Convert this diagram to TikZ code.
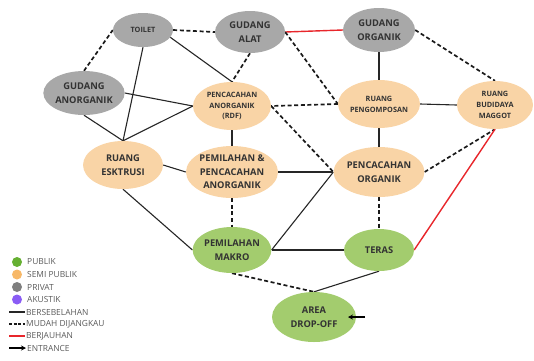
\documentclass[tikz,border=0pt]{standalone}
\usepackage{fontspec}
\setmainfont{Open Sans}
\usetikzlibrary{shapes.geometric,arrows.meta}
\pgfdeclarelayer{background}
\pgfsetlayers{background,main}
\definecolor{nodegray}{HTML}{A8A8A8}
\definecolor{nodeorange}{HTML}{F9D4A6}
\definecolor{nodegreen}{HTML}{A3CC6E}
\definecolor{legpub}{HTML}{66B032}
\definecolor{legsemi}{HTML}{F7B868}
\definecolor{legpriv}{HTML}{7F7F7F}
\definecolor{legaku}{HTML}{8A5CF5}
\definecolor{txtdark}{HTML}{333333}
\definecolor{legtxt}{HTML}{5A5A5A}
\definecolor{farred}{HTML}{E8262B}
\tikzset{
  room/.style={ellipse, inner sep=0pt, align=center, text=txtdark,
    font=\fontsize{9.3}{13.5}\selectfont\bfseries},
  smallroom/.style={room, font=\fontsize{7.3}{10.8}\selectfont\bfseries},
  priv/.style={fill=nodegray},
  semi/.style={fill=nodeorange},
  pub/.style={fill=nodegreen},
  near/.style={draw=black!85, line width=1.1pt},
  reach/.style={draw=black!90, line width=1.7pt, dash pattern=on 4pt off 2.6pt},
  far/.style={draw=farred, line width=1.4pt},
  legdot/.style={circle, inner sep=0pt, minimum size=10pt},
  legtext/.style={anchor=west, inner sep=0pt, text=legtxt, font=\fontsize{8.4}{10}\selectfont}
}
\begin{document}
\begin{tikzpicture}[x=1pt,y=-1pt]
\useasboundingbox (0,0) rectangle (534,360);
% nodes
\node[room,smallroom,priv,minimum width=60pt,minimum height=34pt] (toilet) at (143,30) {TOILET};
\node[room,priv,minimum width=70pt,minimum height=42pt] (alat) at (250,32) {GUDANG\\ALAT};
\node[room,priv,minimum width=72pt,minimum height=44pt] (organik) at (379,30) {GUDANG\\ORGANIK};
\node[room,priv,minimum width=74pt,minimum height=44pt] (anorg) at (84,93) {GUDANG\\ANORGANIK};
\node[smallroom,semi,minimum width=78pt,minimum height=48pt] (rdf) at (232,106) {PENCACAHAN\\ANORGANIK\\(RDF)};
\node[smallroom,semi,minimum width=78pt,minimum height=48pt] (kompos) at (379,104) {RUANG\\PENGOMPOSAN};
\node[smallroom,semi,minimum width=76pt,minimum height=48pt] (maggot) at (495,105) {RUANG\\BUDIDAYA\\MAGGOT};
\node[room,semi,minimum width=80pt,minimum height=48pt] (ekstrusi) at (123,165) {RUANG\\ESKTRUSI};
\node[room,semi,minimum width=80pt,minimum height=52pt] (pp) at (232,172) {PEMILAHAN \&\\PENCACAHAN\\ANORGANIK};
\node[room,semi,minimum width=80pt,minimum height=50pt] (porg) at (379,172) {PENCACAHAN\\ORGANIK};
\node[room,pub,minimum width=78pt,minimum height=46pt] (makro) at (232,250) {PEMILAHAN\\MAKRO};
\node[room,pub,minimum width=70pt,minimum height=42pt] (teras) at (379,250) {TERAS};
\node[room,pub,minimum width=84pt,minimum height=50pt] (drop) at (314,317) {AREA\\DROP-OFF};
\coordinate (ent) at (365,317);
\coordinate (enttip) at (348,317);
% connectors
\begin{pgfonlayer}{background}
\draw[reach] (toilet.east) -- (alat.west);
\draw[reach] (anorg.north) -- (toilet.west);
\draw[near] (toilet.south) -- (ekstrusi.north);
\draw[near] (toilet.-15) -- (rdf.north);
\draw[reach] (alat.south) -- (rdf.north);
\draw[far] (alat.east) -- (organik.west);
\draw[reach] (alat.east) -- (kompos.west);
\draw[near] (organik.south) -- (kompos.north);
\draw[reach] (organik.east) -- (maggot.north);
\draw[near] (kompos.east) -- (maggot.west);
\draw[reach] (kompos.west) -- (rdf.east);
\draw[near] (kompos.south) -- (porg.north);
\draw[reach] (rdf.east) -- (porg.west);
\draw[near] (rdf.south) -- (pp.north);
\draw[near] (anorg.east) -- (rdf.west);
\draw[near] (ekstrusi.north) -- (rdf.west);
\draw[near] (anorg.south) -- (ekstrusi.north);
\draw[near] (ekstrusi.east) -- (pp.west);
\draw[near] (ekstrusi.south) -- (makro.west);
\draw[near] (pp.east) -- (porg.west);
\draw[reach] (pp.south) -- (makro.north);
\draw[near] (makro.east) -- (porg.west);
\draw[near] (makro.east) -- (teras.west);
\draw[reach] (porg.south) -- (teras.north);
\draw[reach] (porg.east) -- (maggot.south);
\draw[far] (teras.east) -- (maggot.south);
\draw[reach] (makro.south) -- (drop.north);
\draw[near] (teras.south) -- (drop.north);
\end{pgfonlayer}
\draw[black, line width=1.1pt, -{Stealth[length=5pt,width=5pt]}] (ent) -- (enttip);
% legend
\node[legdot,fill=legpub] (l1) at (17,262) {};
\node[legdot,fill=legsemi] (l2) at (17,274.5) {};
\node[legdot,fill=legpriv] (l3) at (17,287) {};
\node[legdot,fill=legaku] (l4) at (17,299.5) {};
\node[legtext] (t1) at (27,262) {PUBLIK};
\node[legtext] (t2) at (27,274.5) {SEMI PUBLIK};
\node[legtext] (t3) at (27,287) {PRIVAT};
\node[legtext] (t4) at (27,299.5) {AKUSTIK};
\coordinate (a5) at (9,312); \coordinate (b5) at (25,312);
\coordinate (a6) at (9,324); \coordinate (b6) at (25,324);
\coordinate (a7) at (9,336); \coordinate (b7) at (25,336);
\coordinate (a8) at (9,348); \coordinate (b8) at (26,348);
\draw[black!85, line width=1.1pt] (a5) -- (b5);
\draw[black!90, line width=1.5pt, dash pattern=on 3pt off 1.6pt] (a6) -- (b6);
\draw[farred, line width=1.2pt] (a7) -- (b7);
\draw[black, line width=1.1pt, -{Stealth[length=5pt,width=5pt]}] (a8) -- (b8);
\node[legtext] (t5) at (26,312) {BERSEBELAHAN};
\node[legtext] (t6) at (26,324) {MUDAH DIJANGKAU};
\node[legtext] (t7) at (26,336) {BERJAUHAN};
\node[legtext] (t8) at (27,348) {ENTRANCE};
\end{tikzpicture}
\end{document}
